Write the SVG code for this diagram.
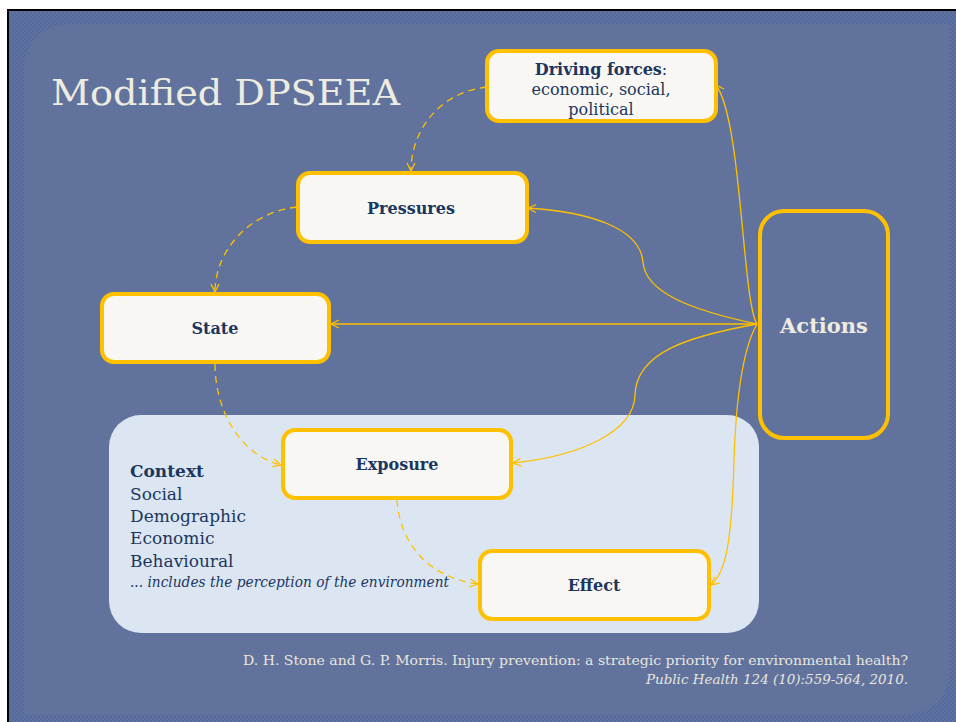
<svg xmlns="http://www.w3.org/2000/svg" width="956" height="722" viewBox="0 0 956 722">
<defs>
  <pattern id="tex" width="4" height="4" patternUnits="userSpaceOnUse">
    <rect width="4" height="4" fill="#56699a"/>
    <rect x="0" y="0" width="2" height="2" fill="#5f73a2"/>
    <rect x="2" y="2" width="2" height="2" fill="#5f73a2"/>
  </pattern>
  <marker id="arr" viewBox="0 0 10 10" refX="9" refY="5" markerWidth="10" markerHeight="10" markerUnits="userSpaceOnUse" orient="auto">
    <path d="M1,1 L9,5 L1,9" fill="none" stroke="#FFC000" stroke-width="1.3"/>
  </marker>
</defs>
<style>
  .box { fill: #F8F7F3; stroke: #FFC000; stroke-width: 4; }
  .lbl { font-family: "DejaVu Serif", serif; font-weight: bold; font-size: 16px; fill: #1B365F; text-anchor: middle; }
  .plain { font-weight: normal; }
  .dash { fill: none; stroke: #FFC000; stroke-width: 1.3; stroke-dasharray: 7 5; marker-end: url(#arr); }
  .solid { fill: none; stroke: #FFC000; stroke-width: 1.3; marker-end: url(#arr); }
  .ctx { font-family: "DejaVu Serif", serif; font-size: 17px; fill: #1B365F; }
  .foot { font-family: "DejaVu Serif", serif; font-size: 12px; fill: #E8E6DE; text-anchor: end; }
</style>
<rect width="956" height="722" fill="#ffffff"/>
<rect x="7" y="9" width="949" height="713" fill="#000000"/>
<rect x="9" y="11" width="947" height="711" fill="url(#tex)"/>
<path d="M74,24 L950,24 L950,665 Q950,715 900,715 L24,715 L24,74 Q24,24 74,24 Z" fill="#61739D"/>
<text x="51" y="105" font-family="DejaVu Serif, serif" font-size="36" fill="#EEECE1" textLength="349" lengthAdjust="spacingAndGlyphs">Modified DPSEEA</text>

<g id="context">
  <rect x="109" y="415" width="650" height="218" rx="32" fill="#DCE6F2"/>
  <text class="ctx" x="130" y="477" style="font-weight:bold">Context</text>
  <text class="ctx" x="130" y="500">Social</text>
  <text class="ctx" x="130" y="522">Demographic</text>
  <text class="ctx" x="130" y="544">Economic</text>
  <text class="ctx" x="130" y="567">Behavioural</text>
  <text class="ctx" x="130" y="587" style="font-size:14px;font-style:italic" textLength="319" lengthAdjust="spacingAndGlyphs">... includes the perception of the environment</text>
</g>

<g id="connectors">
  <path class="dash" d="M487,87 C440,92 411,130 411,171"/>
  <path class="dash" d="M297,207 C250,212 215,250 215,292"/>
  <path class="dash" d="M215,364 C215,410 240,455 281,465"/>
  <path class="dash" d="M397,500 C400,545 430,578 478,584"/>
  <path class="solid" d="M757,324 C742,300 742,120 716,85"/>
  <path class="solid" d="M757,324 C690,310 645,292 643,262 C640,228 590,212 528,208"/>
  <path class="solid" d="M757,324 L331,324"/>
  <path class="solid" d="M757,324 C690,336 636,352 635,395 C634,432 580,456 513,463"/>
  <path class="solid" d="M757,324 C742,350 736,400 734,460 C732,540 726,573 711,585"/>
</g>

<g id="driving">
  <rect class="box" x="487" y="51" width="229" height="70" rx="12"/>
  <text class="lbl" x="601" y="75"><tspan>Driving forces</tspan><tspan class="plain">:</tspan></text>
  <text class="lbl plain" x="601" y="95">economic, social,</text>
  <text class="lbl plain" x="601" y="115">political</text>
</g>
<g id="pressures">
  <rect class="box" x="298" y="173" width="229" height="69" rx="12"/>
  <text class="lbl" x="411" y="214">Pressures</text>
</g>
<g id="state">
  <rect class="box" x="102" y="294" width="227" height="68" rx="12"/>
  <text class="lbl" x="215" y="334">State</text>
</g>
<g id="exposure">
  <rect class="box" x="283" y="430" width="228" height="68" rx="12"/>
  <text class="lbl" x="397" y="470">Exposure</text>
</g>
<g id="effect">
  <rect class="box" x="480" y="551" width="229" height="68" rx="12"/>
  <text class="lbl" x="594" y="591">Effect</text>
</g>
<g id="actions">
  <rect x="760" y="211" width="128" height="227" rx="24" fill="none" stroke="#FFC000" stroke-width="4"/>
  <text class="lbl" x="824" y="333" style="font-size:21px;fill:#EEECE1">Actions</text>
</g>

<text class="foot" x="908" y="665" textLength="665" lengthAdjust="spacingAndGlyphs">D. H. Stone and G. P. Morris. Injury prevention: a strategic priority for environmental health?</text>
<text class="foot" x="908" y="684" style="font-style:italic" textLength="262" lengthAdjust="spacingAndGlyphs">Public Health 124 (10):559-564, 2010.</text>
</svg>
